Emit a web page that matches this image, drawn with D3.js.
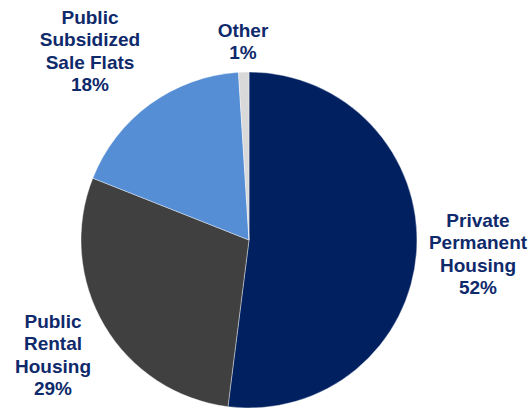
<!DOCTYPE html>
<html>
<head>
<meta charset="utf-8">
<script src="https://cdn.jsdelivr.net/npm/d3@7"></script>
<style>
  html, body { margin: 0; padding: 0; background: #ffffff; }
  svg { display: block; }
</style>
</head>
<body>
<svg id="chart" width="531" height="409"></svg>
<script>
// Housing stock by type (share, %)
const categories = ["Private Permanent Housing", "Public Rental Housing", "Public Subsidized Sale Flats", "Other"];
const values = [52, 29, 18, 1];
const labelLines = [
  ["Private", "Permanent", "Housing"],
  ["Public", "Rental", "Housing"],
  ["Public", "Subsidized", "Sale Flats"],
  ["Other"]
];
const colors = ["#002060", "#404040", "#558ED5", "#D9D9D9"];

const svg = d3.select("#chart");
const cx = 249, cy = 240, r = 168;

const pie = d3.pie().sort(null).value(d => d.value);
const arc = d3.arc().innerRadius(0).outerRadius(r);

const data = categories.map((c, i) => ({ name: c, value: values[i], lines: labelLines[i], color: colors[i] }));

const g = svg.append("g").attr("transform", `translate(${cx},${cy})`);
g.selectAll("path")
  .data(pie(data))
  .join("path")
  .attr("d", arc)
  .attr("fill", d => d.data.color)
  .attr("stroke", "#ffffff")
  .attr("stroke-width", 0.4);

// Label anchor points (centre x, first baseline y)
const labelPos = [
  { x: 478, y: 227 },
  { x: 53, y: 328 },
  { x: 90, y: 24 },
  { x: 243, y: 37 }
];
const lineH = 22.3;

const labels = svg.append("g")
  .attr("font-family", "'Liberation Sans', Arial, sans-serif")
  .attr("font-weight", "bold")
  .attr("font-size", 19)
  .attr("fill", "#0F2A6B")
  .attr("text-anchor", "middle");

data.forEach((d, i) => {
  const t = labels.append("text").attr("x", labelPos[i].x).attr("y", labelPos[i].y);
  const lines = d.lines.concat([d.value + "%"]);
  lines.forEach((ln, j) => {
    t.append("tspan").attr("x", labelPos[i].x).attr("y", labelPos[i].y + j * lineH).text(ln);
  });
});
</script>
</body>
</html>
